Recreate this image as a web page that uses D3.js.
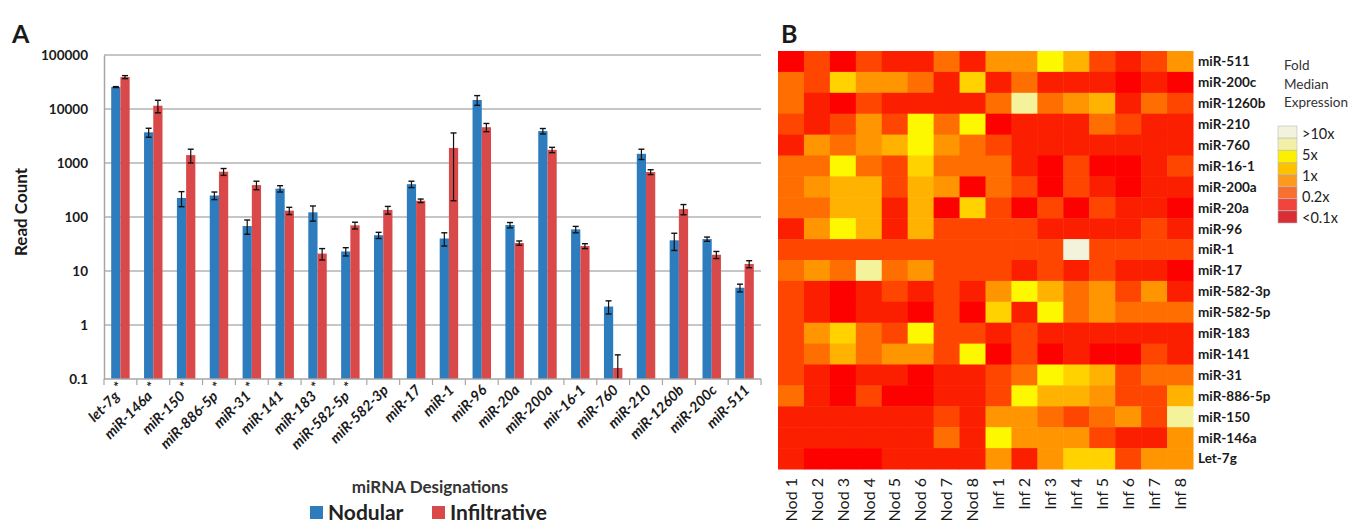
<!DOCTYPE html>
<html>
<head>
<meta charset="utf-8">
<script src="https://cdn.jsdelivr.net/npm/d3@7"></script>
<style>
  html, body { margin: 0; padding: 0; background: #fff; }
  svg { display: block; font-family: Lato, "Open Sans", sans-serif; }
</style>
</head>
<body>
<svg id="chart" width="1353" height="523"></svg>
<script>
// ---------- Panel A data ----------
const categories = ["let-7g", "miR-146a", "miR-150", "miR-886-5p", "miR-31", "miR-141", "miR-183", "miR-582-5p",
  "miR-582-3p", "miR-17", "miR-1", "miR-96", "miR-20a", "miR-200a", "mir-16-1", "miR-760", "miR-210",
  "miR-1260b", "miR-200c", "miR-511"];
const significant = [true, true, true, true, true, true, true, true,
  false, false, false, false, false, false, false, false, false, false, false, false];
const seriesNames = ["Nodular", "Infiltrative"];
const nodular    = [25500, 3700, 225, 250, 68, 335, 122, 23, 46, 405, 40, 14700, 71, 3900, 59, 2.2, 1480, 37, 39, 4.9];
const nodularErr = [500, 700, 70, 40, 20, 45, 38, 4, 6, 55, 11, 3000, 8, 450, 8, 0.6, 320, 13, 3.5, 0.8];
const infiltrative    = [39000, 11500, 1400, 690, 390, 131, 21, 70, 135, 200, 1900, 4600, 33, 1750, 29, 0.16, 680, 140, 20, 13.5];
const infiltrativeErr = [2500, 3000, 400, 100, 70, 20, 5, 10, 22, 15, 1700, 800, 3, 200, 3, 0.12, 70, 30, 3, 2];
const yTicks = [0.1, 1, 10, 100, 1000, 10000, 100000];
const yTickLabels = ["0.1", "1", "10", "100", "1000", "10000", "100000"];

// ---------- Panel B data ----------
const heatColumns = ["Nod 1", "Nod 2", "Nod 3", "Nod 4", "Nod 5", "Nod 6", "Nod 7", "Nod 8",
  "Inf 1", "Inf 2", "Inf 3", "Inf 4", "Inf 5", "Inf 6", "Inf 7", "Inf 8"];
const heatRows = ["miR-511", "miR-200c", "miR-1260b", "miR-210", "miR-760", "miR-16-1", "miR-200a", "miR-20a",
  "miR-96", "miR-1", "miR-17", "miR-582-3p", "miR-582-5p", "miR-183", "miR-141", "miR-31", "miR-886-5p",
  "miR-150", "miR-146a", "Let-7g"];
// fold median expression per row (top to bottom) and column (Nod 1 .. Inf 8)
const heatValues = [
  [0.05,0.2,0.05,0.2,0.1,0.1,0.5,0.1,1,1,6,2,0.2,0.1,0.2,1],
  [0.5,0.2,4,1,1,0.5,0.1,4,0.1,0.5,0.1,0.1,0.1,0.05,0.1,0.05],
  [0.5,0.1,0.05,0.2,0.1,0.1,0.1,0.1,0.5,10,0.5,1,2,0.1,0.5,0.2],
  [0.2,0.1,0.2,1,0.2,6,0.5,6,0.05,0.1,0.1,0.1,0.5,0.2,0.1,0.1],
  [0.1,1,0.5,1,2,6,1,0.5,0.2,0.1,0.1,0.1,0.1,0.1,0.1,0.1],
  [0.5,0.5,6,0.5,0.2,4,0.5,0.5,0.5,0.1,0.05,0.2,0.05,0.05,0.1,0.2],
  [0.5,1,2,2,0.2,2,1,0.05,0.5,0.2,0.05,0.2,0.1,0.05,0.1,0.1],
  [0.5,0.5,2,2,0.1,2,0.05,4,0.2,0.05,0.2,0.05,0.2,0.1,0.1,0.05],
  [0.1,1,6,2,0.1,2,0.2,0.2,0.2,0.2,0.1,0.1,0.1,0.1,0.2,0.1],
  [0.2,0.2,0.2,0.2,0.2,0.2,0.2,0.2,0.2,0.2,0.2,20,0.2,0.2,0.2,0.2],
  [0.5,1,0.5,10,0.5,1,0.2,0.2,0.2,0.1,0.2,0.1,0.2,0.1,0.1,0.05],
  [0.2,0.1,0.05,0.1,0.2,0.1,0.2,0.1,1,6,2,0.5,1,0.2,1,0.1],
  [0.2,0.1,0.05,0.1,0.1,0.05,0.2,0.05,4,0.1,6,0.5,1,0.5,0.5,0.5],
  [0.2,1,4,0.5,0.2,6,0.2,0.2,0.1,0.2,0.1,0.1,0.1,0.1,0.1,0.1],
  [0.2,0.5,2,0.5,1,1,0.2,6,0.05,0.2,0.05,0.1,0.05,0.05,0.2,0.1],
  [0.2,0.1,0.05,0.1,0.1,0.05,0.1,0.1,0.2,0.5,6,4,2,0.2,0.5,0.5],
  [0.5,0.1,0.05,0.2,0.05,0.05,0.1,0.1,0.2,6,2,2,1,0.2,0.2,2],
  [0.1,0.1,0.1,0.1,0.1,0.1,0.2,0.1,1,1,0.5,0.2,0.5,1,0.2,10],
  [0.1,0.1,0.1,0.1,0.1,0.1,0.5,0.1,6,1,1,1,0.2,0.1,0.1,1],
  [0.1,0.05,0.05,0.05,0.1,0.1,0.1,0.1,1,0.1,1,4,4,0.2,1,1]
];
const legendLabels = [">10x", "5x", "1x", "0.2x", "<0.1x"];
const legendSwatches = ["#f3f3dd", "#f2f0a6", "#faf000", "#fcc200", "#fb9a1c", "#f7702f", "#f0453c", "#d92e36"];

// ---------- drawing ----------
const svg = d3.select("#chart");
const textColor = "#1a1a1a";

// Panel labels
svg.append("text").attr("x", 12).attr("y", 43).text("A")
  .attr("font-size", 25).attr("font-weight", "bold").attr("fill", textColor);
svg.append("text").attr("x", 781).attr("y", 43).text("B")
  .attr("font-size", 25).attr("font-weight", "bold").attr("fill", textColor);

// Scales panel A
const y = d3.scaleLog().domain([0.1, 100000]).range([379, 55]);
const x0 = d3.scaleBand().domain(categories).range([104, 761]).padding(0);
const x1 = d3.scaleBand().domain(seriesNames).range([0, x0.bandwidth()]).paddingInner(0).paddingOuter(0.78);
const colors = { Nodular: "#2d7cbd", Infiltrative: "#d94949" };

// grid lines
const gA = svg.append("g");
gA.selectAll("line.grid").data(yTicks.slice(1)).join("line")
  .attr("x1", 104).attr("x2", 761)
  .attr("y1", d => y(d)).attr("y2", d => y(d))
  .attr("stroke", "#b3b3b3").attr("stroke-width", 1.5);

// y axis
const yAxis = d3.axisLeft(y).tickValues(yTicks).tickFormat((d, i) => yTickLabels[i]).tickSize(0).tickPadding(16);
const yAxisG = gA.append("g").attr("transform", "translate(104,0)").call(yAxis);
yAxisG.select(".domain").attr("stroke", "#a6a6a6").attr("stroke-width", 1.5);
yAxisG.selectAll("text").attr("font-size", 13.5).attr("font-weight", "bold").attr("fill", textColor)
  .attr("font-family", "Lato, sans-serif");

// y title
svg.append("text").attr("transform", "translate(27,212) rotate(-90)")
  .attr("text-anchor", "middle").text("Read Count")
  .attr("font-size", 17).attr("font-weight", "bold").attr("fill", textColor);

// bars
const rows = categories.map((c, i) => ({
  cat: c,
  vals: [
    { s: "Nodular", v: nodular[i], e: nodularErr[i] },
    { s: "Infiltrative", v: infiltrative[i], e: infiltrativeErr[i] }
  ]
}));
const groups = gA.selectAll("g.grp").data(rows).join("g").attr("class", "grp")
  .attr("transform", d => `translate(${x0(d.cat)},0)`);
groups.selectAll("rect").data(d => d.vals).join("rect")
  .attr("x", d => x1(d.s)).attr("width", x1.bandwidth())
  .attr("y", d => y(d.v)).attr("height", d => y(0.1) - y(d.v))
  .attr("fill", d => colors[d.s]);

// error bars
const eb = groups.selectAll("g.err").data(d => d.vals).join("g").attr("class", "err")
  .attr("transform", d => `translate(${x1(d.s) + x1.bandwidth() / 2},0)`);
const lo = d => Math.max(0.1, d.v - d.e);
eb.append("line").attr("y1", d => y(lo(d))).attr("y2", d => y(d.v + d.e))
  .attr("stroke", "#111").attr("stroke-width", 1.2);
eb.append("line").attr("x1", -3).attr("x2", 3).attr("y1", d => y(d.v + d.e)).attr("y2", d => y(d.v + d.e))
  .attr("stroke", "#111").attr("stroke-width", 1.4);
eb.filter(d => d.v - d.e > 0.1).append("line").attr("x1", -3).attr("x2", 3)
  .attr("y1", d => y(d.v - d.e)).attr("y2", d => y(d.v - d.e))
  .attr("stroke", "#111").attr("stroke-width", 1.4);

// x axis
const xAxisG = gA.append("g");
xAxisG.append("line").attr("x1", 104).attr("x2", 761).attr("y1", y(0.1)).attr("y2", y(0.1))
  .attr("stroke", "#a6a6a6").attr("stroke-width", 1.5);
xAxisG.selectAll("line.tk").data(categories.concat(["end"])).join("line").attr("class", "tk")
  .attr("x1", (d, i) => i < categories.length ? x0(d) : x0.range()[1])
  .attr("x2", (d, i) => i < categories.length ? x0(d) : x0.range()[1])
  .attr("y1", y(0.1)).attr("y2", y(0.1) + 6)
  .attr("stroke", "#a6a6a6").attr("stroke-width", 1.2);
const xl = xAxisG.selectAll("text.xl").data(categories).join("text").attr("class", "xl")
  .attr("transform", d => `translate(${x0(d) + x0.bandwidth() / 2 + 6},${y(0.1) + 12}) rotate(-45)`)
  .attr("text-anchor", "end").attr("font-size", 14.5).attr("font-weight", "bold")
  .attr("font-style", "italic").attr("fill", textColor);
xl.append("tspan").text(d => d);
xl.filter((d, i) => significant[i]).append("tspan").text(" *").attr("dy", "-0.3em").attr("font-size", 14);

// x title & legend
svg.append("text").attr("x", 430).attr("y", 493).attr("text-anchor", "middle")
  .text("miRNA Designations").attr("font-size", 17).attr("font-weight", "bold").attr("fill", "#333");
const leg = svg.append("g");
const legItems = [{ s: "Nodular", x: 310 }, { s: "Infiltrative", x: 432 }];
leg.selectAll("rect").data(legItems).join("rect")
  .attr("x", d => d.x).attr("y", 506).attr("width", 13).attr("height", 13)
  .attr("fill", d => colors[d.s]);
leg.selectAll("text").data(legItems).join("text")
  .attr("x", d => d.x + 18).attr("y", 520).text(d => d.s)
  .attr("font-size", 21).attr("font-weight", "bold").attr("fill", "#222");

// ---------- Panel B ----------
const hx = d3.scaleBand().domain(heatColumns).range([778, 1193]);
const hy = d3.scaleBand().domain(heatRows).range([51, 469]);
const heatColor = d3.scaleThreshold()
  .domain([0.07, 0.15, 0.35, 0.75, 1.5, 3, 5, 8, 15])
  .range(["#fd0000", "#fb1f00", "#ff4600", "#ff6e00", "#ff9500", "#ffb300", "#ffd200", "#fdf700", "#f4f29a", "#f3f3dc"]);
const cells = [];
heatRows.forEach((r, i) => heatColumns.forEach((c, j) => cells.push({ r, c, v: heatValues[i][j] })));
const gB = svg.append("g");
gB.selectAll("rect").data(cells).join("rect")
  .attr("x", d => hx(d.c)).attr("y", d => hy(d.r))
  .attr("width", hx.bandwidth() + 0.5).attr("height", hy.bandwidth() + 0.5)
  .attr("fill", d => heatColor(d.v));

// row labels
gB.selectAll("text.rl").data(heatRows).join("text").attr("class", "rl")
  .attr("x", 1198).attr("y", d => hy(d) + hy.bandwidth() / 2).attr("dy", "0.36em")
  .text(d => d).attr("font-size", 13.5).attr("font-weight", "bold").attr("fill", textColor);
// column labels
gB.selectAll("text.cl").data(heatColumns).join("text").attr("class", "cl")
  .attr("transform", d => `translate(${hx(d) + hx.bandwidth() / 2},478) rotate(-90)`)
  .attr("dy", "0.36em").attr("text-anchor", "end")
  .text(d => d).attr("font-size", 16).attr("fill", textColor);

// legend
const legB = svg.append("g");
["Fold", "Median", "Expression"].forEach((t, i) => {
  legB.append("text").attr("x", 1284).attr("y", 70 + i * 18.5).text(t)
    .attr("font-size", 13.5).attr("fill", "#333");
});
const sw = d3.scaleBand().domain(d3.range(legendSwatches.length)).range([126, 223]);
legB.selectAll("rect").data(legendSwatches).join("rect")
  .attr("x", 1278).attr("y", (d, i) => sw(i)).attr("width", 19).attr("height", sw.bandwidth())
  .attr("fill", d => d).attr("stroke", "#bbb").attr("stroke-width", 0.6);
const ll = d3.scalePoint().domain(legendLabels).range([134, 218]);
legB.selectAll("text.ll").data(legendLabels).join("text").attr("class", "ll")
  .attr("x", 1302).attr("y", d => ll(d)).attr("dy", "0.36em").text(d => d)
  .attr("font-size", 14.5).attr("fill", "#222");
</script>
</body>
</html>
